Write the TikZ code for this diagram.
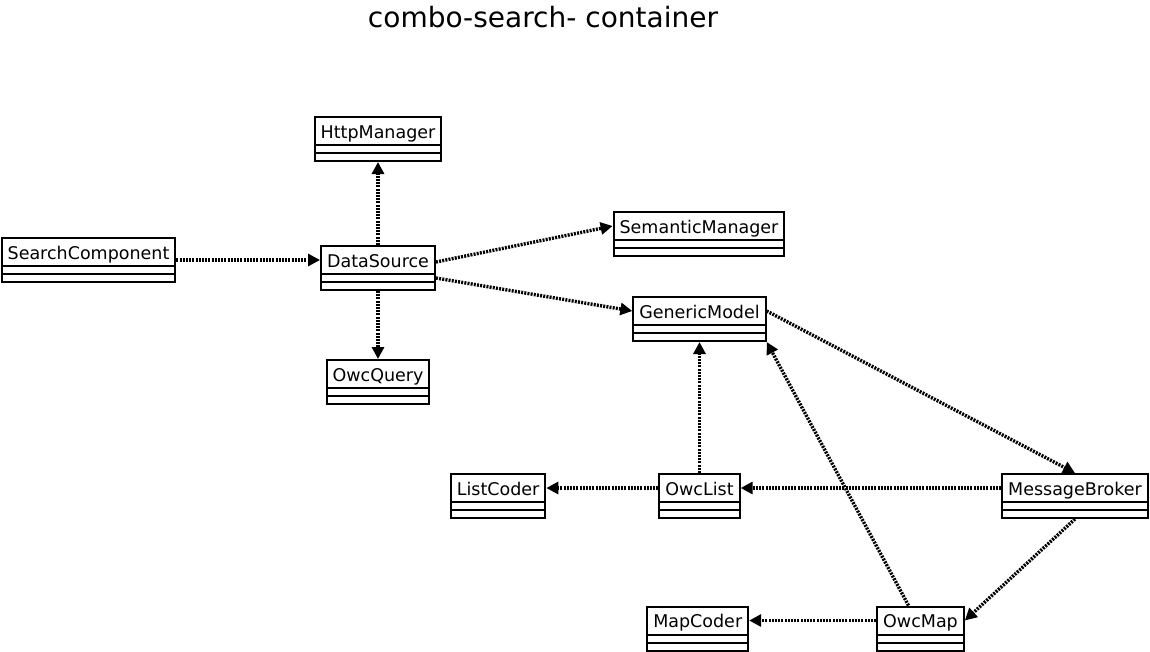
\documentclass[tikz,border=0pt]{standalone}
\usepackage{fontspec}
\setmainfont{DejaVu Sans}
\usetikzlibrary{positioning,arrows.meta}

\newcommand{\classfont}{\fontsize{17.5pt}{21pt}\selectfont}
\newcommand{\headfont}{\fontsize{28pt}{33pt}\selectfont}

\tikzset{
  umlclass/.style={draw, line width=2pt, fill=white, inner xsep=6pt, inner ysep=2pt,
    text height=19pt, text depth=21pt, font=\classfont,
    path picture={
      \draw[line width=2pt]
        ([yshift=-28pt]path picture bounding box.north west) -- ([yshift=-28pt]path picture bounding box.north east)
        ([yshift=-36pt]path picture bounding box.north west) -- ([yshift=-36pt]path picture bounding box.north east);
    }},
  dep/.style={draw, line width=3.4pt, dash pattern=on 2pt off 1.2pt, ->},
}

\begin{document}
\begin{tikzpicture}[x=1pt, y=-1pt, >={Triangle[length=12pt, width=12pt]}]
  \useasboundingbox (0,0) rectangle (1150,651);
  \node[font=\headfont, anchor=base] (title) at (543,27) {combo-search- container};

  \node[umlclass] (sc) at (88.5,260) {SearchComponent};
  \node[umlclass] (ds) at (378,268) {DataSource};
  \node[umlclass, above=83pt of ds] (hm) {HttpManager};
  \node[umlclass, below=68pt of ds] (oq) {OwcQuery};
  \node[umlclass] (sm) at (699,234) {SemanticManager};
  \node[umlclass] (gm) at (699.5,319) {GenericModel};
  \node[umlclass, below=131pt of gm] (ol) {OwcList};
  \node[umlclass, left=112pt of ol] (lc) {ListCoder};
  \node[umlclass] (mb) at (1075,496) {MessageBroker};
  \node[umlclass] (om) at (920.5,628.5) {OwcMap};
  \node[umlclass, left=127pt of om] (mc) {MapCoder};

  \draw[dep] (sc.east) -- ([yshift=8pt]ds.west);
  \draw[dep] (ds.north) -- (hm.south);
  \draw[dep] (ds.south) -- (oq.north);
  \draw[dep] ([yshift=6pt]ds.east) -- ([yshift=8pt]sm.west);
  \draw[dep] ([yshift=-10pt]ds.east) -- ([yshift=8pt]gm.west);
  \draw[dep] ([yshift=8pt]gm.east) -- (mb.north);
  \draw[dep] (ol.north) -- (gm.south);
  \draw[dep] ([yshift=8pt]ol.west) -- ([yshift=8pt]lc.east);
  \draw[dep] ([yshift=8pt]mb.west) -- ([yshift=8pt]ol.east);
  \draw[dep] (mb.south) -- ([yshift=8pt]om.east);
  \draw[dep] ([xshift=-12pt]om.north) -- (gm.south east);
  \draw[dep] ([yshift=8pt]om.west) -- ([yshift=8pt]mc.east);
\end{tikzpicture}
\end{document}
